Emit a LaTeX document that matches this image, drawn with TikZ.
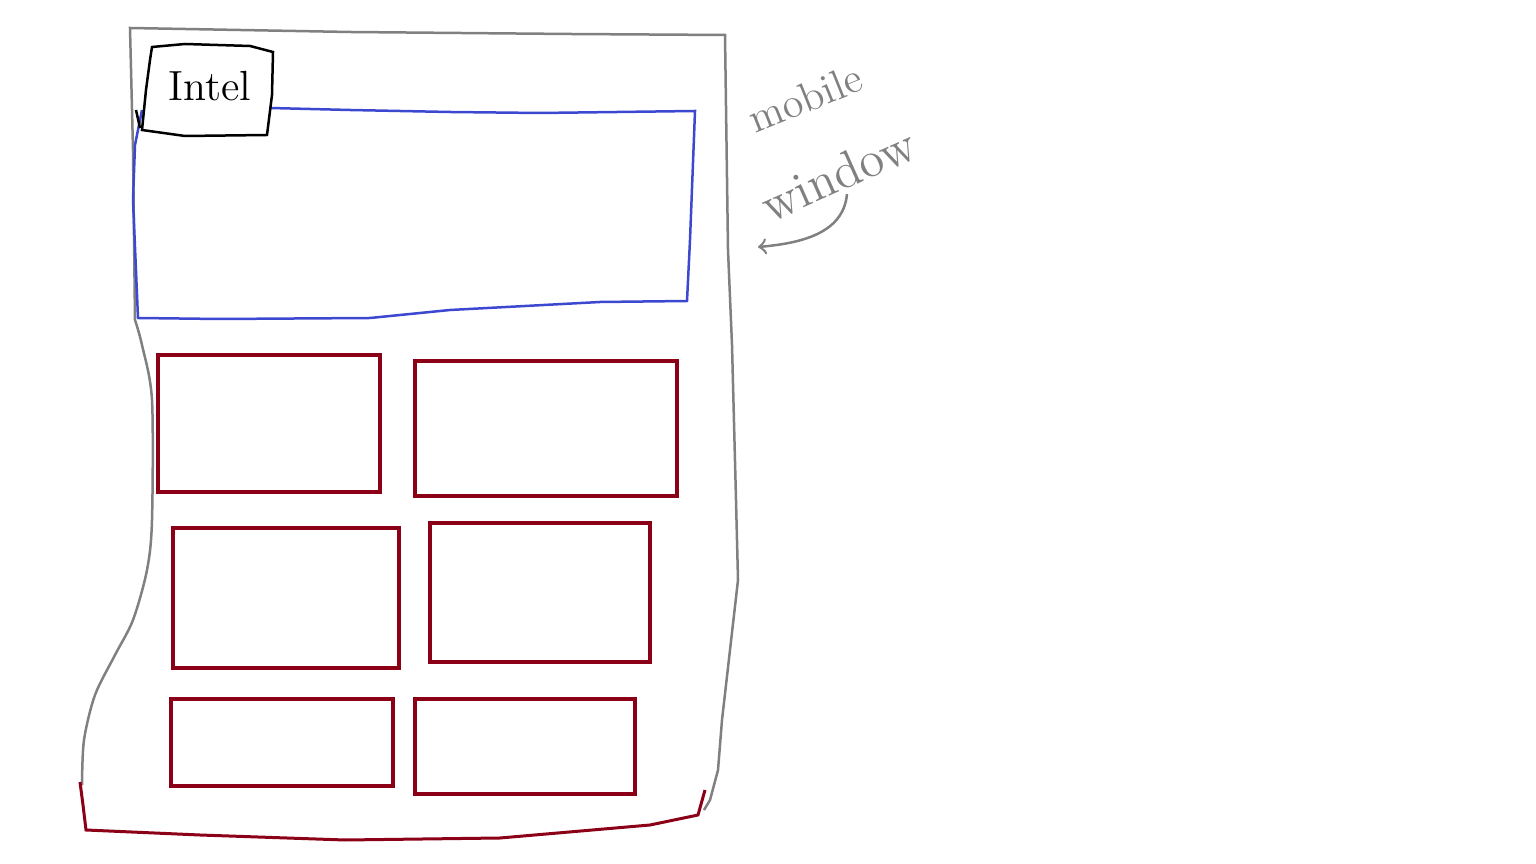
\documentclass[tikz,border=0pt]{standalone}
\usepackage{tikz}
\usetikzlibrary{calc}
\definecolor{sketchgray}{RGB}{128,128,128}
\definecolor{sketchblue}{RGB}{60,72,208}
\definecolor{sketchred}{RGB}{139,0,22}
\tikzset{tile/.style={line width=0.4mm, color=sketchred}}
\begin{document}
\begin{tikzpicture}
			%%%%% START %%%%%
			\useasboundingbox (0, 0) rectangle (15.36, -8.64);
			
			% outline of the phone
			\draw[line width=0.25mm, color=sketchgray] plot[smooth, tension=0.5] coordinates {(0.82, -7.85) (0.84, -7.40) (0.95, -6.95) (1.15, -6.55) (1.33, -6.20) (1.47, -5.70) (1.52, -5.20) (1.52, -4.00) (1.42, -3.45) (1.35, -3.20)} -- (1.33, -1.50) -- (1.30, -0.28) -- (3.50, -0.32) -- (5.70, -0.34) -- (7.25, -0.35) -- (7.28, -2.50) -- (7.32, -3.45) -- (7.36, -5.00) -- (7.38, -5.80) -- (7.30, -6.50) -- (7.22, -7.20) -- (7.18, -7.70) -- (7.10, -8.00) -- (7.04, -8.10);
			\draw[line width=0.3mm, color=sketchred] (0.80, -7.82) -- (0.83, -8.05) -- (0.86, -8.30) -- (2.00, -8.35) -- (3.45, -8.40) -- (5.00, -8.38) -- (6.50, -8.25) -- (6.98, -8.15) -- (7.05, -7.90);
			
			% banner
			\draw[line width=0.25mm, color=sketchblue] (1.42, -1.10) -- (1.35, -1.45) -- (1.33, -2.00) -- (1.38, -3.18) -- (2.20, -3.19) -- (3.70, -3.18) -- (4.50, -3.10) -- (6.00, -3.02) -- (6.87, -3.01) -- (6.90, -2.40) -- (6.95, -1.11) -- (5.40, -1.13) -- (4.50, -1.12) -- (3.50, -1.10) -- (2.70, -1.08);
			
			% logo
			\draw[line width=0.25mm, fill=white] (1.52, -0.47) -- (1.85, -0.44) -- (2.50, -0.46) -- (2.73, -0.52) -- (2.72, -0.95) -- (2.67, -1.35) -- (1.85, -1.36) -- (1.42, -1.30) -- (1.46, -0.90) -- (1.50, -0.60) -- cycle;
			\draw[line width=0.25mm] (1.36, -1.10) -- (1.40, -1.28);
			\node[font=\large] (logo) at (2.10, -0.86) {Intel};
			
			% tiles
			\draw[tile] (1.58, -3.55) rectangle (3.80, -4.92);
			\draw[tile] (4.15, -3.61) rectangle (6.77, -4.96);
			\draw[tile] (1.73, -5.28) rectangle (3.99, -6.68);
			\draw[tile] (4.30, -5.23) rectangle (6.50, -6.62);
			\draw[tile] (1.71, -6.99) rectangle (3.93, -7.86);
			\draw[tile] (4.15, -6.99) rectangle (6.35, -7.94);
			
			% note
			\node[font=\large, color=sketchgray, rotate=22, inner sep=1pt] (mobile) at (8.05, -0.98) {mobile};
			\node[font=\Large, color=sketchgray, rotate=24, inner sep=1pt] (window) at (8.38, -1.74) {window};
			\coordinate (pointer) at (7.58, -2.47);
			\draw[->, line width=0.25mm, color=sketchgray] (window.south) to[out=-95, in=5] (pointer);
			
			%%%%% END %%%%%
		\end{tikzpicture}
\end{document}
